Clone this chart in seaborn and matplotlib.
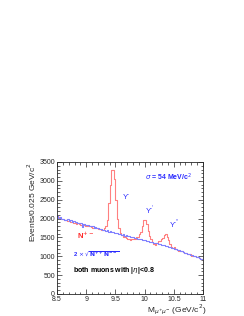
import numpy as np
import pandas as pd
import matplotlib
matplotlib.use("Agg")
import matplotlib.pyplot as plt
from matplotlib.ticker import MultipleLocator
import seaborn as sns

# bin edges: 8.5 .. 11.0, 0.025 GeV/c^2 per bin
BIN_LO, BIN_HI, BIN_W = 8.5, 11.0, 0.025

# 2*sqrt(N++ N--) (like-sign background)
bkg = [2060, 2010, 2030, 1990, 2000, 1970, 1960, 1980, 1940, 1950,
       1920, 1930, 1900, 1910, 1880, 1890, 1870, 1780, 1850, 1840,
       1830, 1820, 1800, 1790, 1810, 1760, 1780, 1740, 1750, 1720,
       1730, 1700, 1710, 1680, 1690, 1650, 1670, 1640, 1650, 1620,
       1610, 1630, 1590, 1600, 1570, 1580, 1550, 1560, 1540, 1530,
       1520, 1510, 1500, 1490, 1480, 1470, 1460, 1450, 1440, 1430,
       1420, 1410, 1400, 1390, 1380, 1370, 1360, 1350, 1340, 1330,
       1320, 1310, 1300, 1290, 1270, 1260, 1250, 1240, 1230, 1210,
       1200, 1190, 1170, 1160, 1150, 1130, 1120, 1100, 1090, 1070,
       1060, 1040, 1030, 1010, 1000, 980, 970, 950, 940, 920]

# N+- (opposite-sign pairs)
sig = [2080, 2040, 2010, 2000, 1990, 1950, 1970, 1940, 1930, 1910,
       1920, 1880, 1890, 1860, 1870, 1850, 1830, 1800, 1820, 1810,
       1800, 1790, 1810, 1770, 1760, 1780, 1740, 1750, 1720, 1730,
       1710, 1700, 1740, 1800, 1950, 2400, 2900, 3300, 3300, 3050,
       2500, 2000, 1750, 1620, 1560, 1520, 1500, 1480, 1460, 1450,
       1440, 1470, 1450, 1460, 1500, 1520, 1580, 1650, 1800, 1960,
       1950, 1850, 1680, 1550, 1450, 1380, 1320, 1300, 1340, 1400,
       1400, 1450, 1480, 1570, 1600, 1520, 1420, 1320, 1250, 1220,
       1240, 1200, 1170, 1150, 1130, 1140, 1110, 1100, 1080, 1070,
       1060, 1050, 1020, 1010, 1000, 990, 970, 960, 940, 920]

n_bins = len(sig)
centers = BIN_LO + BIN_W * (np.arange(n_bins) + 0.5)
df = pd.DataFrame({"mass": np.concatenate([centers, centers]),
                   "events": sig + bkg,
                   "kind": ["N+-"] * n_bins + ["bkg"] * n_bins})

RED, BLUE = "#ff8080", "#8080ff"
TXT_BLUE, TXT_RED = "#2a2aff", "#ff2a2a"

sns.set_style("ticks")
plt.rcParams["font.family"] = ["Liberation Sans", "DejaVu Sans"]

fig = plt.figure(figsize=(2.44, 3.16), dpi=100, facecolor="white")
ax = fig.add_axes([57 / 244, 1 - 294 / 316, 146 / 244, 132 / 316])

sns.histplot(data=df, x="mass", weights="events", hue="kind",
             bins=n_bins, binrange=(BIN_LO, BIN_HI),
             element="step", fill=False, palette={"N+-": RED, "bkg": BLUE},
             hue_order=["bkg", "N+-"], linewidth=0.8, legend=False, ax=ax)

ax.set_xlim(BIN_LO, BIN_HI)
ax.set_ylim(0, 3500)
ax.xaxis.set_minor_locator(MultipleLocator(0.1))
ax.yaxis.set_major_locator(MultipleLocator(500))
ax.yaxis.set_minor_locator(MultipleLocator(100))
ax.set_xticks([8.5, 9, 9.5, 10, 10.5, 11])
ax.set_xticklabels(["8.5", "9", "9.5", "10", "10.5", "11"])
ax.tick_params(which="both", direction="in", top=True, right=True,
               labelsize=5, pad=1.5, width=0.5)
ax.tick_params(which="major", length=3.5)
ax.tick_params(which="minor", length=1.8)
for s in ax.spines.values():
    s.set_linewidth(0.6)

ax.set_xlabel(r"M$_{\mu^{+}\mu^{-}}$ (GeV/c$^{2}$)", fontsize=6, ha="right")
ax.xaxis.set_label_coords(1.02, -0.065)
ax.set_ylabel(r"Events/0.025 GeV/c$^{2}$", fontsize=6, loc="top", labelpad=1)

ax.text(10.0, 3080, r"$\sigma$ = 54 MeV/c$^{2}$", color=TXT_BLUE, fontsize=5,
        fontweight="bold", va="center")
ax.text(9.62, 2570, "ϒ", color=TXT_BLUE, fontsize=5.5, va="center")
ax.text(10.0, 2230, "ϒ$^{'}$", color=TXT_BLUE, fontsize=5.5, va="center")
ax.text(10.42, 1860, "ϒ$^{''}$", color=TXT_BLUE, fontsize=5.5, va="center")
ax.text(8.84, 1560, "N$^{+-}$", color=TXT_RED, fontsize=5.5, fontweight="bold",
        va="center")
ax.text(8.78, 1080, r"2 $\times$ $\sqrt{\mathbf{N^{++}N^{--}}}$", color=TXT_BLUE,
        fontsize=4.3, fontweight="bold", va="center")
ax.text(8.78, 610, r"both muons with |$\eta$|<0.8", color="black", fontsize=5,
        fontweight="bold", va="center")

fig.savefig("out.png", dpi=100, facecolor="white")
